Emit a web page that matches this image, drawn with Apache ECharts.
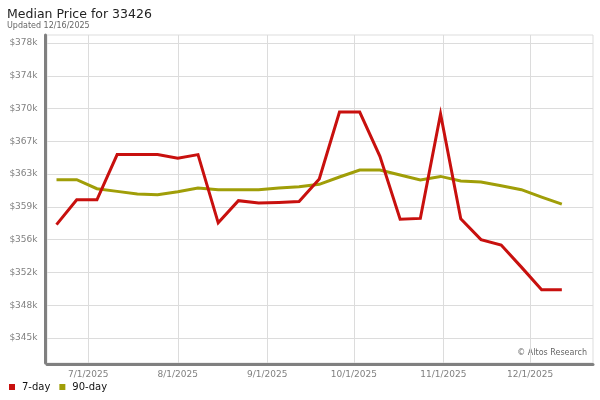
<!DOCTYPE html>
<html>
<head>
<meta charset="utf-8">
<script src="https://cdn.jsdelivr.net/npm/echarts@6/dist/echarts.min.js"></script>
<style>
html,body{margin:0;padding:0;background:#fff;}
#chart{width:600px;height:400px;}
</style>
</head>
<body>
<div id="chart"></div>
<script>
const dates = ['2025-06-20','2025-06-27','2025-07-04','2025-07-11','2025-07-18','2025-07-25','2025-08-01','2025-08-08','2025-08-15','2025-08-22','2025-08-29','2025-09-05','2025-09-12','2025-09-19','2025-09-26','2025-10-03','2025-10-10','2025-10-17','2025-10-24','2025-10-31','2025-11-07','2025-11-14','2025-11-21','2025-11-28','2025-12-05','2025-12-12'];
const sevenDay = [357300,360100,360100,365200,365200,365200,364800,365200,357500,360000,359750,359800,359900,362450,370000,370000,365000,357900,358000,369800,357950,355600,355000,352500,349950,349950];
const ninetyDay = [362370,362370,361350,361050,360750,360670,361010,361430,361240,361240,361240,361430,361580,361850,362670,363460,363460,362900,362330,362740,362220,362110,361690,361240,360410,359620];
const monthTicks = ['2025-07-01','2025-08-01','2025-09-01','2025-10-01','2025-11-01','2025-12-01'];
const yTickValues = [344500,348200,351900,355600,359300,363000,366700,370400,374100,377800];
const yTickLabels = ['$345k','$348k','$352k','$356k','$359k','$363k','$367k','$370k','$374k','$378k'];
const seriesNames = ['7-day','90-day'];

const toTs = s => { const p = s.split('-').map(Number); return Date.UTC(p[0], p[1]-1, p[2]); };
const fmtDate = v => { const d = new Date(v); return (d.getUTCMonth()+1) + '/' + d.getUTCDate() + '/' + d.getUTCFullYear(); };

const chart = echarts.init(document.getElementById('chart'), null, {renderer:'canvas'});
const font = 'DejaVu Sans';
chart.setOption({
  animation: false,
  textStyle: {fontFamily: font},
  title: {
    text: 'Median Price for 33426',
    subtext: 'Updated 12/16/2025',
    left: 2, top: 3, itemGap: 1,
    textStyle: {fontFamily: font, fontSize: 12.5, fontWeight: 'normal', color: '#222'},
    subtextStyle: {fontFamily: font, fontSize: 8, color: '#666'}
  },
  graphic: [{
    type: 'text', right: 13, top: 349,
    style: {text: '\u00a9 Altos Research', font: '8px "DejaVu Sans"', fill: '#666'}
  }],
  legend: {
    data: seriesNames,
    left: 4, top: 377,
    icon: 'rect', itemWidth: 6, itemHeight: 6, itemGap: 9,
    textStyle: {fontFamily: font, fontSize: 10, color: '#111', padding: [0,0,0,2]}
  },
  grid: {left: 47, right: 7, top: 35, bottom: 37, show: true, borderColor: '#ddd', borderWidth: 1},
  xAxis: {
    type: 'value',
    min: Date.UTC(2025,5,16,17), max: Date.UTC(2025,11,22,19),
    offset: 1.5,
    axisLine: {show: true, lineStyle: {color: '#808080', width: 3}},
    axisTick: {show: false, customValues: monthTicks.map(toTs)},
    axisLabel: {customValues: monthTicks.map(toTs), formatter: fmtDate, color: '#808080', fontSize: 9, fontFamily: font, margin: 6, hideOverlap: false},
    splitLine: {show: true, lineStyle: {color: '#dcdcdc', width: 1}}
  },
  yAxis: {
    type: 'value',
    min: 341680, max: 378700,
    offset: 1.5,
    axisLine: {show: true, lineStyle: {color: '#808080', width: 3}},
    axisTick: {show: false, customValues: yTickValues},
    axisLabel: {customValues: yTickValues, formatter: v => { const i = yTickValues.indexOf(v); return i >= 0 ? yTickLabels[i] : ''; }, color: '#808080', fontSize: 9, fontFamily: font, margin: 8},
    splitLine: {show: true, lineStyle: {color: '#dcdcdc', width: 1}}
  },
  series: [
    {name: seriesNames[0], type: 'line', z: 4, symbol: 'none', color: '#c8100e',
     lineStyle: {width: 3, color: '#c8100e', join: 'miter'},
     data: dates.map((d,i) => [toTs(d), sevenDay[i]])},
    {name: seriesNames[1], type: 'line', z: 3, symbol: 'none', color: '#a09e08',
     lineStyle: {width: 3, color: '#a09e08', join: 'miter'},
     data: dates.map((d,i) => [toTs(d), ninetyDay[i]])}
  ]
});
</script>
</body>
</html>
